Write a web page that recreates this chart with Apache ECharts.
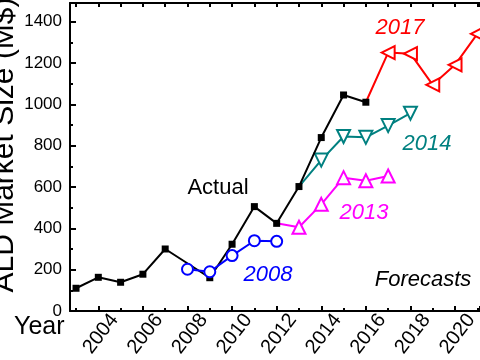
<!DOCTYPE html>
<html><head><meta charset="utf-8">
<script src="https://cdn.jsdelivr.net/npm/echarts@6/dist/echarts.min.js"></script>
<style>html,body{margin:0;padding:0;background:#fff}#c{width:480px;height:360px}</style>
</head><body><div id="c"></div>
<script>
// ---- data ----
const actualYears  = [2003,2004,2005,2006,2007,2009,2010,2011,2012,2013,2014,2015,2016];
const actualValues = [110,163,139,178,300,161,323,505,424,602,839,1045,1010];
const f2008Years  = [2008,2009,2010,2011,2012];
const f2008Values = [202,190,268,340,337];
const f2013Years  = [2012,2013,2014,2015,2016,2017];
const f2013Values = [424,405,516,645,630,653];
const f2014Years  = [2013,2014,2015,2016,2017,2018];
const f2014Values = [602,730,844,840,897,957];
const f2017Years  = [2016,2017,2018,2019,2020,2021];
const f2017Values = [1010,1250,1245,1094,1191,1341];
const seriesLabels = ['Actual','2008','2013','2014','2017'];

const FONT = '"Liberation Sans", Arial, sans-serif';
const XMIN = 2002.73, XMAX = 2021.12, YMIN = 0, YMAX = 1490;

function pts(years, values, hideFirst) {
  return years.map((y, i) => {
    const d = { value: [y, values[i]] };
    if (hideFirst && i === 0) d.symbol = 'none';
    return d;
  });
}

function lineSeries(name, years, values, color, symbol, size, rotate, hideFirst, z) {
  return {
    name, type: 'line', xAxisIndex: 0, yAxisIndex: 0, z,
    data: pts(years, values, hideFirst),
    symbol, symbolSize: size, symbolRotate: rotate,
    showAllSymbol: true,
    lineStyle: { color, width: 2 },
    itemStyle: { color },
    emphasis: { disabled: true },
    animation: false
  };
}

const blackLine = { color: '#000', width: 2 };

const option = {
  animation: false,
  grid: { left: 70, right: 0, top: 3, bottom: 49, containLabel: false, outerBoundsMode: 'none' },
  xAxis: [
    {
      type: 'value', position: 'bottom', min: XMIN, max: XMAX,
      minInterval: 2, maxInterval: 2, splitNumber: 9,
      axisLine: { show: true, onZero: false, lineStyle: blackLine },
      axisTick: { show: true, inside: true, length: 5, lineStyle: blackLine },
      axisLabel: {
        show: true, rotate: 52, align: 'center', verticalAlign: 'middle', margin: 26,
        padding: [0, 0, 0, 8],
        fontSize: 20, fontFamily: FONT, color: '#000',
        formatter: v => (Math.abs(v - Math.round(v)) < 1e-6 ? String(Math.round(v)) : '')
      },
      splitLine: { show: false }
    },
    {
      type: 'value', position: 'bottom', min: XMIN, max: XMAX,
      minInterval: 1, maxInterval: 1, splitNumber: 18,
      axisLine: { show: false, onZero: false },
      axisTick: { show: true, inside: true, length: 3, lineStyle: blackLine },
      axisLabel: { show: false }, splitLine: { show: false }
    },
    {
      type: 'value', position: 'top', min: XMIN, max: XMAX,
      minInterval: 1, maxInterval: 1, splitNumber: 18,
      axisLine: { show: true, onZero: false, lineStyle: blackLine },
      axisTick: { show: true, inside: true, length: 4, lineStyle: blackLine },
      axisLabel: { show: false }, splitLine: { show: false }
    }
  ],
  yAxis: [
    {
      type: 'value', position: 'left', min: YMIN, max: YMAX, interval: 200,
      axisLine: { show: true, onZero: false, lineStyle: blackLine },
      axisTick: { show: true, inside: true, length: 6, lineStyle: blackLine },
      axisLabel: { show: true, fontSize: 17, fontFamily: FONT, color: '#000', margin: 8,
        formatter: v => (v % 200 === 0 ? String(v) : '') , showMaxLabel: false },
      splitLine: { show: false }
    },
    {
      type: 'value', position: 'left', min: YMIN, max: YMAX, interval: 100,
      axisLine: { show: false, onZero: false },
      axisTick: { show: true, inside: true, length: 3, lineStyle: blackLine },
      axisLabel: { show: false }, splitLine: { show: false }
    }
  ],
  series: [
    lineSeries(seriesLabels[2], f2013Years, f2013Values, '#ff00ff', 'emptyTriangle', 13, 0, true, 2),
    lineSeries(seriesLabels[3], f2014Years, f2014Values, '#008080', 'emptyTriangle', 13, 180, true, 2),
    lineSeries(seriesLabels[4], f2017Years, f2017Values, '#ff0000', 'emptyTriangle', 13, 90, true, 2),
    lineSeries(seriesLabels[0], actualYears, actualValues, '#000000', 'rect', 7, 0, false, 3),
    lineSeries(seriesLabels[1], f2008Years, f2008Values, '#0000ff', 'emptyCircle', 11, 0, false, 4)
  ],
  graphic: [
    { type: 'text', x: 5, y: 145, rotation: Math.PI / 2,
      style: { text: 'ALD Market Size (M$)', font: '30px ' + FONT, fill: '#000',
        align: 'center', verticalAlign: 'middle', textAlign: 'center', textVerticalAlign: 'middle' } },
    { type: 'text', x: 14, y: 327,
      style: { text: 'Year', font: '25px ' + FONT, fill: '#000',
        align: 'left', verticalAlign: 'middle', textAlign: 'left', textVerticalAlign: 'middle' } },
    { type: 'text', x: 218, y: 188,
      style: { text: 'Actual', font: '22px ' + FONT, fill: '#000',
        align: 'center', verticalAlign: 'middle', textAlign: 'center', textVerticalAlign: 'middle' } },
    { type: 'text', x: 400, y: 28,
      style: { text: '2017', font: 'italic 22px ' + FONT, fill: '#ff0000',
        align: 'center', verticalAlign: 'middle', textAlign: 'center', textVerticalAlign: 'middle' } },
    { type: 'text', x: 427, y: 144,
      style: { text: '2014', font: 'italic 22px ' + FONT, fill: '#008080',
        align: 'center', verticalAlign: 'middle', textAlign: 'center', textVerticalAlign: 'middle' } },
    { type: 'text', x: 364, y: 213,
      style: { text: '2013', font: 'italic 22px ' + FONT, fill: '#ff00ff',
        align: 'center', verticalAlign: 'middle', textAlign: 'center', textVerticalAlign: 'middle' } },
    { type: 'text', x: 268, y: 275,
      style: { text: '2008', font: 'italic 22px ' + FONT, fill: '#0000ff',
        align: 'center', verticalAlign: 'middle', textAlign: 'center', textVerticalAlign: 'middle' } },
    { type: 'text', x: 423, y: 280,
      style: { text: 'Forecasts', font: 'italic 22px ' + FONT, fill: '#000',
        align: 'center', verticalAlign: 'middle', textAlign: 'center', textVerticalAlign: 'middle' } }
  ]
};

const chart = echarts.init(document.getElementById('c'), null, { renderer: 'canvas' });
chart.setOption(option);
</script>
</body></html>
